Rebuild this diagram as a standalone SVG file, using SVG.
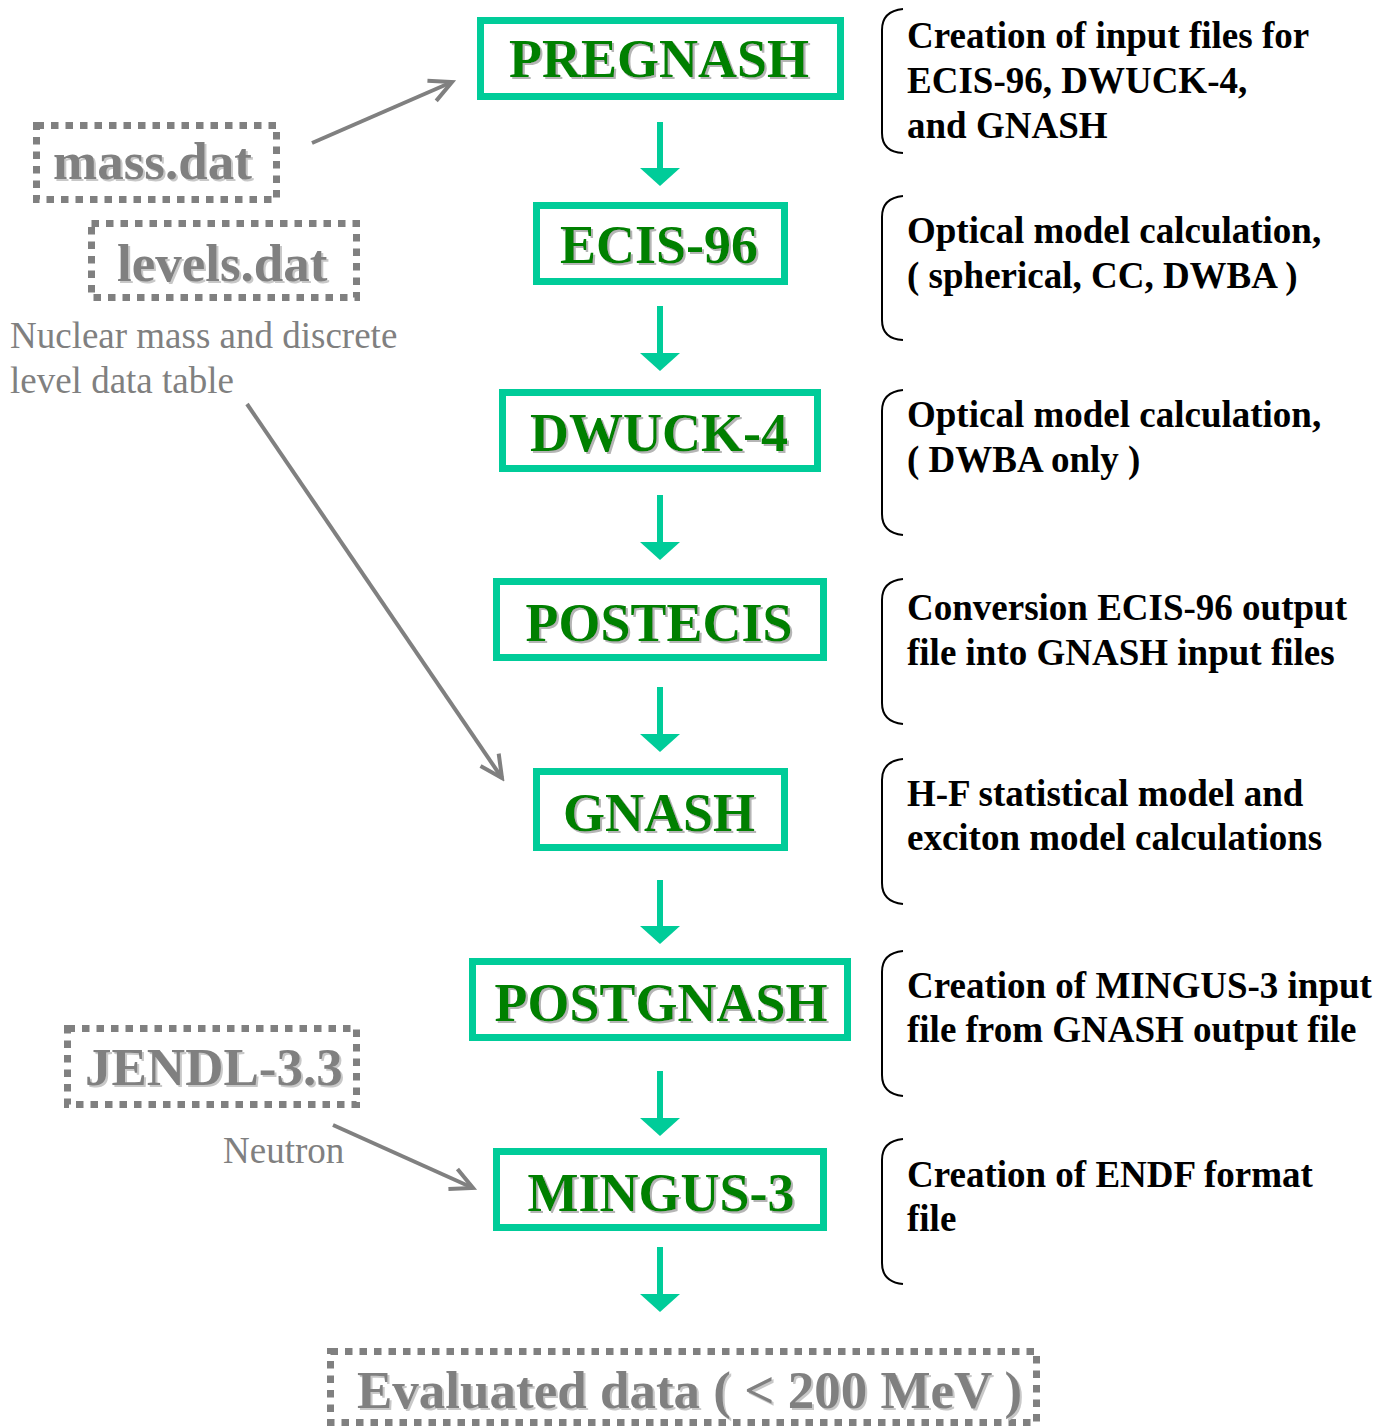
<svg xmlns="http://www.w3.org/2000/svg" width="1391" height="1427" viewBox="0 0 1391 1427">
<style>
.gbox{fill:#fff;stroke:#00cc99;stroke-width:7}
.gtxt{font-family:"Liberation Serif",serif;font-weight:bold;font-size:54px;fill:#008000;text-anchor:middle;filter:url(#sh)}
.dbox{fill:none;stroke:#808080;stroke-width:7;stroke-dasharray:7.5 7}
.dtxt{font-family:"Liberation Serif",serif;font-weight:bold;font-size:53px;fill:#808080;filter:url(#sh2)}
.note{font-family:"Liberation Serif",serif;font-size:37px;fill:#808080}
.desc{font-family:"Liberation Serif",serif;font-weight:bold;font-size:37px;fill:#000}
.brk{fill:none;stroke:#000;stroke-width:2}
.garr{stroke:#00cc99;stroke-width:6}
.gray{stroke:#808080;stroke-width:4;fill:none}
</style>
<defs>
<filter id="sh" x="-5%" y="-20%" width="110%" height="140%"><feDropShadow dx="2" dy="2" stdDeviation="0" flood-color="#b5b5b5"/></filter>
<filter id="sh2" x="-5%" y="-20%" width="110%" height="140%"><feDropShadow dx="2" dy="2" stdDeviation="0" flood-color="#c8c8c8"/></filter>
<marker id="open" markerUnits="userSpaceOnUse" markerWidth="30" markerHeight="30" viewBox="0 0 30 30" refX="26" refY="15" orient="auto"><path d="M4,4 L26,15 L4,26" fill="none" stroke="#808080" stroke-width="4"/></marker>
<marker id="tri" markerUnits="userSpaceOnUse" markerWidth="40" markerHeight="18" viewBox="0 0 40 18" refX="20" refY="0" orient="0"><path d="M0,0 L40,0 L20,18 Z" fill="#00cc99"/></marker>
</defs>
<g id="connectors">
<line class="garr" x1="660" y1="122" x2="660" y2="168" marker-end="url(#tri)"/>
<line class="garr" x1="660" y1="306" x2="660" y2="353" marker-end="url(#tri)"/>
<line class="garr" x1="660" y1="495" x2="660" y2="542" marker-end="url(#tri)"/>
<line class="garr" x1="660" y1="687" x2="660" y2="734" marker-end="url(#tri)"/>
<line class="garr" x1="660" y1="880" x2="660" y2="926" marker-end="url(#tri)"/>
<line class="garr" x1="660" y1="1071" x2="660" y2="1118" marker-end="url(#tri)"/>
<line class="garr" x1="660" y1="1247" x2="660" y2="1294" marker-end="url(#tri)"/>
<line class="gray" x1="312" y1="143" x2="452" y2="82" marker-end="url(#open)"/>
<line class="gray" x1="247" y1="404" x2="502" y2="778" marker-end="url(#open)"/>
<line class="gray" x1="333" y1="1125" x2="473" y2="1188" marker-end="url(#open)"/>
</g>
<g id="pregnash"><rect class="gbox" x="480.5" y="20.5" width="360" height="76"/><text class="gtxt" x="659" y="77">PREGNASH</text></g>
<g id="ecis96"><rect class="gbox" x="536.5" y="205.5" width="248" height="76"/><text class="gtxt" x="659" y="263">ECIS-96</text></g>
<g id="dwuck4"><rect class="gbox" x="502.5" y="392.5" width="315" height="76"/><text class="gtxt" x="659" y="451">DWUCK-4</text></g>
<g id="postecis"><rect class="gbox" x="496.5" y="581.5" width="327" height="76"/><text class="gtxt" x="659" y="641">POSTECIS</text></g>
<g id="gnash"><rect class="gbox" x="536.5" y="771.5" width="248" height="76"/><text class="gtxt" x="659" y="831">GNASH</text></g>
<g id="postgnash"><rect class="gbox" x="472.5" y="961.5" width="375" height="76"/><text class="gtxt" x="661" y="1021">POSTGNASH</text></g>
<g id="mingus3"><rect class="gbox" x="496.5" y="1151.5" width="327" height="76"/><text class="gtxt" x="661" y="1211">MINGUS-3</text></g>
<g id="massdat"><rect class="dbox" x="36.5" y="125.5" width="240" height="74"/><text class="dtxt" x="53" y="179">mass.dat</text></g>
<g id="levelsdat"><rect class="dbox" x="91.5" y="223.5" width="265" height="74"/><text class="dtxt" x="117" y="281">levels.dat</text></g>
<g id="datanote"><text class="note" x="10" y="348">Nuclear mass and discrete</text><text class="note" x="10" y="393">level data table</text></g>
<g id="jendl"><rect class="dbox" x="67.5" y="1028.5" width="289" height="76"/><text class="dtxt" x="85" y="1085">JENDL-3.3</text></g>
<g id="neutron"><text class="note" x="223" y="1163">Neutron</text></g>
<g id="evaluated"><rect class="dbox" x="330.5" y="1351.5" width="706" height="71"/><text class="dtxt" x="357" y="1408">Evaluated data ( &lt; 200 MeV )</text></g>
<g id="desc1"><path class="brk" d="M903,9 Q882,11 882,30 L882,133 Q882,152 903,153"/><text class="desc" x="907" y="48">Creation of input files for</text><text class="desc" x="907" y="93">ECIS-96, DWUCK-4,</text><text class="desc" x="907" y="138">and GNASH</text></g>
<g id="desc2"><path class="brk" d="M903,196 Q882,198 882,217 L882,320 Q882,339 903,340"/><text class="desc" x="907" y="243">Optical model calculation,</text><text class="desc" x="907" y="288">( spherical, CC, DWBA )</text></g>
<g id="desc3"><path class="brk" d="M903,390 Q882,392 882,411 L882,514 Q882,533 903,535"/><text class="desc" x="907" y="427">Optical model calculation,</text><text class="desc" x="907" y="472">( DWBA only )</text></g>
<g id="desc4"><path class="brk" d="M903,579 Q882,581 882,600 L882,703 Q882,722 903,724"/><text class="desc" x="907" y="620">Conversion ECIS-96 output</text><text class="desc" x="907" y="665">file into GNASH input files</text></g>
<g id="desc5"><path class="brk" d="M903,759 Q882,761 882,780 L882,883 Q882,902 903,904"/><text class="desc" x="907" y="806">H-F statistical model and</text><text class="desc" x="907" y="850">exciton model calculations</text></g>
<g id="desc6"><path class="brk" d="M903,951 Q882,953 882,972 L882,1075 Q882,1094 903,1096"/><text class="desc" x="907" y="998">Creation of MINGUS-3 input</text><text class="desc" x="907" y="1042">file from GNASH output file</text></g>
<g id="desc7"><path class="brk" d="M903,1139 Q882,1141 882,1160 L882,1263 Q882,1282 903,1284"/><text class="desc" x="907" y="1187">Creation of ENDF format</text><text class="desc" x="907" y="1231">file</text></g>
</svg>
